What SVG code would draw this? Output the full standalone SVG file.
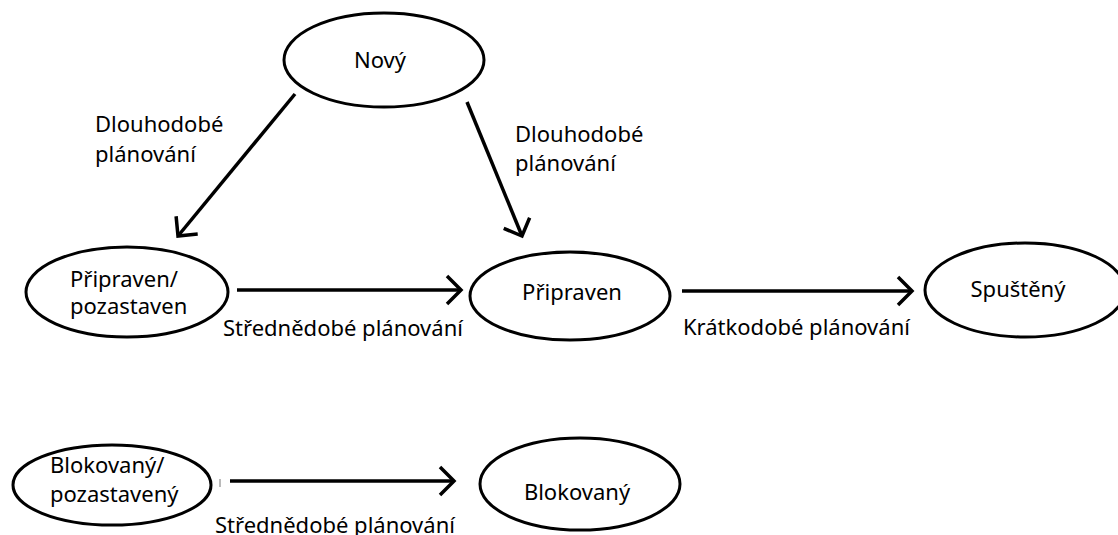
<svg xmlns="http://www.w3.org/2000/svg" width="1118" height="535" viewBox="0 0 1118 535">
  <style>
    .state ellipse { fill: #ffffff; stroke: #000000; stroke-width: 3; }
    text { font-family: "Noto Sans", "Liberation Sans", sans-serif; font-size: 22px; fill: #000000; }
    .edge { fill: none; stroke: #000000; stroke-width: 3.5; marker-end: url(#chevron); }
    .tick { stroke: #777777; stroke-width: 1; }
  </style>
  <defs>
    <marker id="chevron" markerUnits="userSpaceOnUse" markerWidth="30" markerHeight="40" viewBox="-20 -20 30 40" refX="0" refY="0" orient="auto" overflow="visible">
      <path d="M-14,-14 L0,0 L-14,14" fill="none" stroke="#000000" stroke-width="3.5" stroke-linejoin="miter"/>
    </marker>
  </defs>

  <rect width="1118" height="535" fill="#ffffff"/>

  <!-- transitions -->
  <g id="connectors">
    <line class="edge" x1="295" y1="94" x2="178" y2="236"/>
    <line class="edge" x1="467" y1="102" x2="522" y2="236"/>
    <line class="edge" x1="237" y1="290" x2="461" y2="290"/>
    <line class="edge" x1="682" y1="291" x2="912" y2="291"/>
    <line class="edge" x1="230" y1="481" x2="454" y2="481"/>
    <line class="tick" x1="220" y1="479" x2="220" y2="487"/>

    <text x="95" y="132">Dlouhodobé</text>
    <text x="95" y="162">plánování</text>
    <text x="515" y="142">Dlouhodobé</text>
    <text x="515" y="171">plánování</text>
    <text x="223" y="336">Střednědobé plánování</text>
    <text x="683" y="335">Krátkodobé plánování</text>
    <text x="215" y="533">Střednědobé plánování</text>
  </g>

  <g id="novy" class="state">
    <ellipse cx="384" cy="60" rx="100" ry="47"/>
    <text x="380" y="68" text-anchor="middle">Nový</text>
  </g>

  <g id="pripraven-pozastaven" class="state">
    <ellipse cx="127" cy="292" rx="101" ry="45"/>
    <text x="70" y="287">Připraven/</text>
    <text x="70" y="314">pozastaven</text>
  </g>

  <g id="pripraven" class="state">
    <ellipse cx="570" cy="296" rx="100" ry="44"/>
    <text x="572" y="300" text-anchor="middle">Připraven</text>
  </g>

  <g id="spusteny" class="state">
    <ellipse cx="1025" cy="290" rx="100" ry="47"/>
    <text x="1018" y="297" text-anchor="middle">Spuštěný</text>
  </g>

  <g id="blokovany-pozastaveny" class="state">
    <ellipse cx="112" cy="485" rx="99" ry="40"/>
    <text x="50" y="473">Blokovaný/</text>
    <text x="50" y="502">pozastavený</text>
  </g>

  <g id="blokovany" class="state">
    <ellipse cx="580" cy="484" rx="100" ry="46"/>
    <text x="577" y="500" text-anchor="middle">Blokovaný</text>
  </g>
</svg>
